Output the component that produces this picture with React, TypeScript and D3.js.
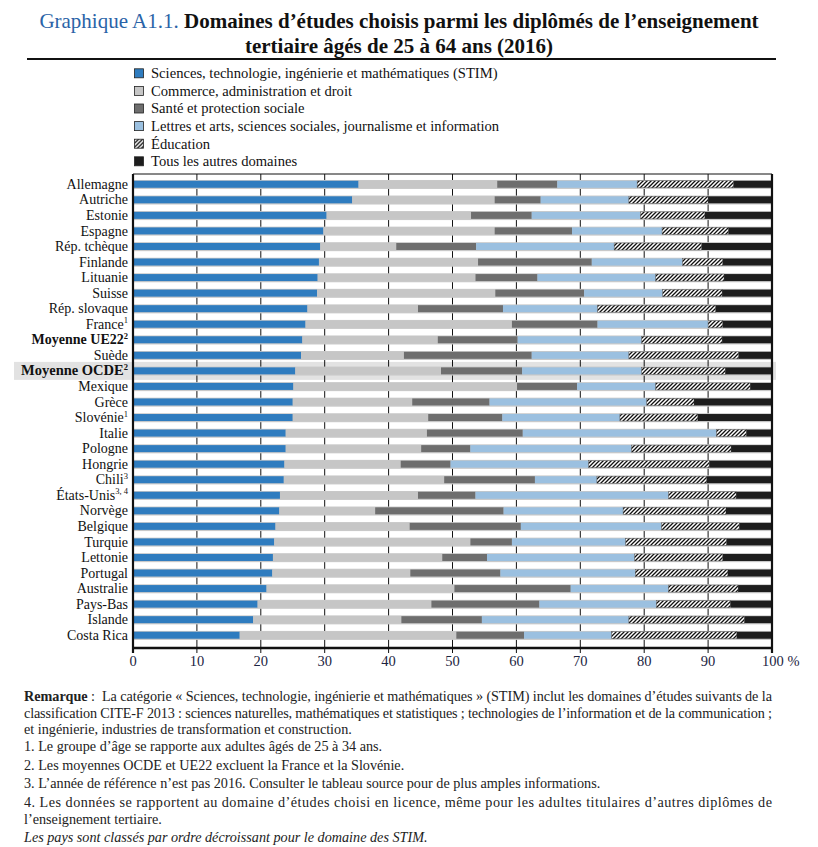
import * as d3 from 'd3';

// Countries, sorted by STIM share (as in the source)
const countries = [
  'Allemagne', 'Autriche', 'Estonie', 'Espagne', 'Rép. tchèque', 'Finlande', 'Lituanie', 'Suisse',
  'Rép. slovaque', 'France', 'Moyenne UE22', 'Suède', 'Moyenne OCDE', 'Mexique', 'Grèce', 'Slovénie',
  'Italie', 'Pologne', 'Hongrie', 'Chili', 'États-Unis', 'Norvège', 'Belgique', 'Turquie', 'Lettonie',
  'Portugal', 'Australie', 'Pays-Bas', 'Islande', 'Costa Rica',
];
const footnoteMarks = [
  '', '', '', '', '', '', '', '', '', '1', '2', '', '2', '', '', '1',
  '', '', '', '3', '3, 4', '', '', '', '', '', '', '', '', '',
];
const boldRows = ['Moyenne UE22', 'Moyenne OCDE'];
const highlightRow = 'Moyenne OCDE';

// Shares (%) by field of study
const stim = [35.3, 34.3, 30.3, 29.8, 29.3, 29.1, 28.9, 28.8, 27.3, 27.0, 26.5, 26.3, 25.4, 25.1, 25.0, 25.0, 23.9, 23.9, 23.7, 23.6, 23.0, 22.9, 22.3, 22.1, 21.9, 21.8, 20.9, 19.5, 18.8, 16.7];
const commerce = [21.7, 22.3, 22.6, 26.8, 11.9, 24.9, 24.7, 27.9, 17.3, 32.3, 21.2, 16.1, 22.8, 35.0, 18.7, 21.2, 22.1, 21.2, 18.2, 25.1, 21.6, 15.0, 21.0, 30.7, 26.5, 21.6, 29.4, 27.2, 23.2, 33.9];
const sante = [9.4, 7.2, 9.5, 12.1, 12.5, 17.8, 9.7, 13.9, 13.3, 13.4, 12.5, 20.0, 12.7, 9.4, 12.1, 11.6, 15.0, 7.7, 7.8, 14.2, 9.0, 20.1, 17.4, 6.5, 7.0, 14.1, 18.2, 16.9, 12.6, 10.6];
const lettres = [12.5, 13.8, 17.0, 14.1, 21.6, 14.2, 18.5, 12.3, 14.8, 17.3, 19.4, 15.2, 18.7, 12.3, 24.6, 18.4, 30.3, 25.2, 21.6, 9.7, 30.2, 18.7, 22.0, 17.8, 23.1, 21.1, 15.3, 18.3, 23.0, 13.7];
const education = [15.1, 12.4, 10.1, 10.4, 13.7, 6.3, 10.7, 9.3, 18.5, 2.3, 12.6, 17.2, 13.1, 14.8, 7.4, 12.2, 4.7, 15.6, 18.9, 17.2, 10.6, 16.1, 12.2, 15.8, 13.8, 14.5, 10.9, 11.6, 18.1, 19.6];
const autres = [6.0, 10.0, 10.5, 6.8, 11.0, 7.7, 7.5, 7.8, 8.8, 7.7, 7.8, 5.2, 7.3, 3.4, 12.2, 11.6, 4.0, 6.4, 9.8, 10.2, 5.6, 7.2, 5.1, 7.1, 7.7, 6.9, 5.3, 6.5, 4.3, 5.5];

const seriesKeys = ['stim', 'commerce', 'sante', 'lettres', 'education', 'autres'];
const seriesNames = [
  'Sciences, technologie, ingénierie et mathématiques (STIM)',
  'Commerce, administration et droit',
  'Santé et protection sociale',
  'Lettres et arts, sciences sociales, journalisme et information',
  'Éducation',
  'Tous les autres domaines',
];
const xTicks = [0, 10, 20, 30, 40, 50, 60, 70, 80, 90, 100];

const W = 818;
const H = 847;
const SERIF = '"Liberation Serif", "DejaVu Serif", serif';
const fills = ['#2f7cbf', '#c6c6c6', '#6e6e6e', '#9bc0e0', 'url(#hatch)', '#1d1d1d'];

const plotTop = 174;
const axisY = 648;
const x = d3.scaleLinear().domain([0, 100]).range([133, 772]);
const y = d3.scaleBand<string>().domain(countries).range([176.5, 643]);
const legendY = d3.scalePoint<string>().domain(seriesNames).range([73.3, 161.3]);

const rows = countries.map((c, i) => ({
  country: c,
  stim: stim[i],
  commerce: commerce[i],
  sante: sante[i],
  lettres: lettres[i],
  education: education[i],
  autres: autres[i],
}));
const stacked = d3.stack<any>().keys(seriesKeys)(rows);

export default function App() {
  const bw = 7;
  return (
    <svg
      width={W}
      height={H}
      viewBox={`0 0 ${W} ${H}`}
      style={{ position: 'absolute', left: 0, top: 0, background: '#fff' }}
      fontFamily={SERIF}
    >
      <defs>
        <pattern id="hatch" patternUnits="userSpaceOnUse" width="4" height="4">
          <rect width="4" height="4" fill="#fff" />
          <path d="M-1,1 l2,-2 M0,4 l4,-4 M3,5 l2,-2" stroke="#111" strokeWidth="1.3" />
        </pattern>
      </defs>

      {/* Title */}
      <text x={399} y={28} textAnchor="middle" fontSize={21}>
        <tspan fill="#2a63a7">Graphique A1.1.</tspan>
        <tspan fontWeight="bold" fill="#111">{'  Domaines d’études choisis parmi les diplômés de l’enseignement'}</tspan>
      </text>
      <text x={399} y={53} textAnchor="middle" fontSize={21} fontWeight="bold" fill="#111">
        tertiaire âgés de 25 à 64 ans (2016)
      </text>
      <line x1={27} x2={776} y1={59} y2={59} stroke="#111" strokeWidth={2} />

      {/* Legend */}
      {seriesNames.map((name, i) => (
        <g key={name} transform={`translate(134,${legendY(name)})`}>
          <rect x={0.5} y={-4.5} width={9} height={9} fill={fills[i]} stroke="#222" strokeWidth={0.8} />
          <text x={17} y={4.8} fontSize={14.6} fill="#111">{name}</text>
        </g>
      ))}

      {/* Highlight for OECD average */}
      <rect x={14} y={y(highlightRow)! + y.bandwidth() / 2 - 9} width={762} height={18} fill="#e2e2e2" />

      {/* Vertical gridlines and ticks */}
      {xTicks.slice(1, -1).map((t) => (
        <line key={t} x1={x(t)} x2={x(t)} y1={plotTop} y2={axisY + 5} stroke="#111" strokeWidth={1} />
      ))}

      {/* Row bands */}
      {countries.map((c) => (
        <rect key={c} x={x(0)} width={x(100) - x(0)} y={y(c)! + y.bandwidth() / 2 - 4.3} height={9} fill="#c9c9c9" />
      ))}

      {/* Stacked bars */}
      {stacked.map((s, i) => (
        <g key={s.key}>
          {s.map((d, j) => (
            <rect
              key={j}
              x={x(d[0])}
              width={Math.max(0, x(d[1]) - x(d[0]))}
              y={y(countries[j])! + y.bandwidth() / 2 - bw / 2}
              height={bw}
              fill={fills[i]}
              stroke={i === 4 ? '#555' : 'none'}
              strokeWidth={0.5}
            />
          ))}
        </g>
      ))}

      {/* Frame */}
      <line x1={x(0)} x2={x(100)} y1={plotTop} y2={plotTop} stroke="#111" strokeWidth={1} />
      <line x1={x(0)} x2={x(0)} y1={plotTop} y2={axisY + 5} stroke="#111" strokeWidth={2.2} />
      <line x1={x(100)} x2={x(100)} y1={plotTop} y2={axisY + 5} stroke="#111" strokeWidth={2.2} />
      <line x1={x(0) - 1} x2={x(100) + 1} y1={axisY} y2={axisY} stroke="#111" strokeWidth={2.5} />

      {/* Country labels */}
      {countries.map((c, i) => (
        <text
          key={c}
          x={128}
          y={y(c)! + y.bandwidth() / 2 + 4.6}
          textAnchor="end"
          fontSize={c === highlightRow ? 14.5 : 14}
          fontWeight={boldRows.includes(c) ? 'bold' : 'normal'}
          fill="#111"
        >
          {c}
          {footnoteMarks[i] && (
            <tspan fontSize={8.5} dy={-5.5}>{footnoteMarks[i]}</tspan>
          )}
        </text>
      ))}

      {/* X tick labels */}
      {xTicks.map((t) =>
        t === 100 ? (
          <text key={t} x={x(t) - 10} y={666} fontSize={14.5} fill="#1c2442">100 %</text>
        ) : (
          <text key={t} x={x(t)} y={666} textAnchor="middle" fontSize={14.5} fill="#1c2442">{t}</text>
        )
      )}

      {/* Notes */}
      <g fontSize={14.2} fill="#222">
        <text x={24} y={701} fontWeight="bold">Remarque</text>
        <text x={91} y={701}>:</text>
        <text x={102} y={701} textLength={670} lengthAdjust="spacing">
          La catégorie « Sciences, technologie, ingénierie et mathématiques » (STIM) inclut les domaines d’études suivants de la
        </text>
        <text x={24} y={717.5} textLength={748} lengthAdjust="spacing">
          classification CITE-F 2013 : sciences naturelles, mathématiques et statistiques ; technologies de l’information et de la communication ;
        </text>
        <text x={24} y={734}>et ingénierie, industries de transformation et construction.</text>
        <text x={24} y={751}>1. Le groupe d’âge se rapporte aux adultes âgés de 25 à 34 ans.</text>
        <text x={24} y={769.5}>2. Les moyennes OCDE et UE22 excluent la France et la Slovénie.</text>
        <text x={24} y={788}>3. L’année de référence n’est pas 2016. Consulter le tableau source pour de plus amples informations.</text>
        <text x={24} y={806.5} textLength={748} lengthAdjust="spacing">
          4. Les données se rapportent au domaine d’études choisi en licence, même pour les adultes titulaires d’autres diplômes de
        </text>
        <text x={24} y={824}>l’enseignement tertiaire.</text>
        <text x={24} y={842} fontStyle="italic">Les pays sont classés par ordre décroissant pour le domaine des STIM.</text>
      </g>
    </svg>
  );
}
